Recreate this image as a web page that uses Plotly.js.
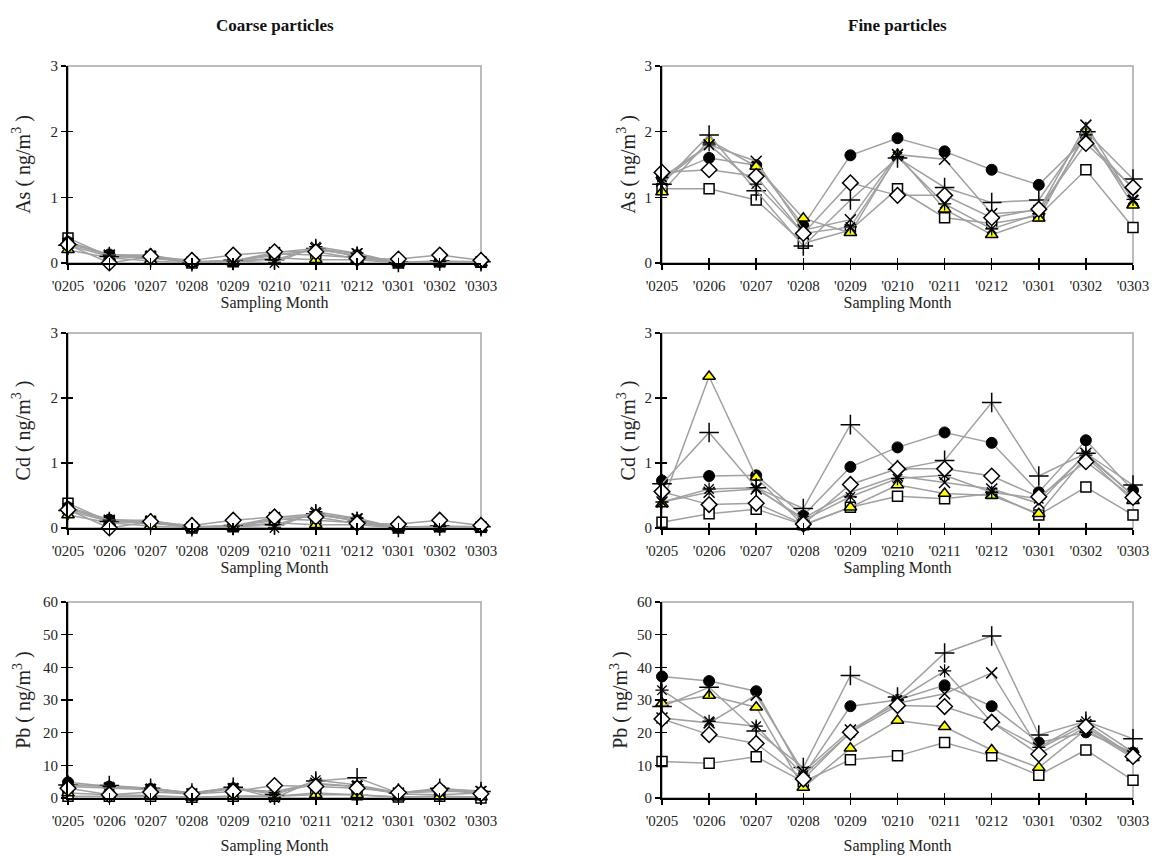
<!DOCTYPE html>
<html><head><meta charset="utf-8">
<script src="https://cdn.plot.ly/plotly-3.0.1.min.js"></script>
<style>html,body{margin:0;padding:0;background:#fff}#chart{width:1152px;height:857px}</style>
</head><body><div id="chart"></div>
<script>
const months = ["'0205","'0206","'0207","'0208","'0209","'0210","'0211","'0212","'0301","'0302","'0303"];

// Coarse particles, As (the Cd coarse panel shows the same values)
const coarseAsCircle   = [0.32,0.13,0.10,0.01,0.03,0.12,0.20,0.12,0.01,0.02,0.01];
const coarseAsTriangle = [0.20,0.08,0.03,0.00,0.01,0.08,0.05,0.05,0.00,0.01,0.00];
const coarseAsSquare   = [0.38,0.10,0.08,0.00,0.02,0.14,0.12,0.08,0.00,0.02,0.01];
const coarseAsPlus     = [0.27,0.10,0.08,0.02,0.04,0.05,0.22,0.10,0.01,0.03,0.02];
const coarseAsX        = [0.30,0.12,0.10,0.01,0.03,0.16,0.22,0.14,0.00,0.02,0.01];
const coarseAsStar     = [0.30,0.12,0.12,0.01,0.03,0.00,0.25,0.15,0.00,0.02,0.02];
const coarseAsDiamond  = [0.28,0.00,0.10,0.04,0.12,0.17,0.17,0.07,0.06,0.12,0.04];

const coarseCdCircle   = [0.32,0.13,0.10,0.01,0.03,0.12,0.20,0.12,0.01,0.02,0.01];
const coarseCdTriangle = [0.20,0.08,0.03,0.00,0.01,0.08,0.05,0.05,0.00,0.01,0.00];
const coarseCdSquare   = [0.38,0.10,0.08,0.00,0.02,0.14,0.12,0.08,0.00,0.02,0.01];
const coarseCdPlus     = [0.27,0.10,0.08,0.02,0.04,0.05,0.22,0.10,0.01,0.03,0.02];
const coarseCdX        = [0.30,0.12,0.10,0.01,0.03,0.16,0.22,0.14,0.00,0.02,0.01];
const coarseCdStar     = [0.30,0.12,0.12,0.01,0.03,0.00,0.25,0.15,0.00,0.02,0.02];
const coarseCdDiamond  = [0.28,0.00,0.10,0.04,0.12,0.17,0.17,0.07,0.06,0.12,0.04];

const coarsePbCircle   = [4.8,3.5,2.8,1.5,3.0,1.5,4.2,3.5,1.2,1.0,1.5];
const coarsePbTriangle = [1.5,1.0,0.8,0.2,0.5,0.5,1.0,1.0,0.2,0.5,0.3];
const coarsePbSquare   = [0.5,0.5,0.5,0.2,0.5,0.5,1.5,1.0,0.3,0.5,0.0];
const coarsePbPlus     = [4.0,3.8,3.0,1.5,3.3,1.0,5.2,6.2,1.5,3.0,2.0];
const coarsePbX        = [3.5,3.0,2.5,1.2,2.8,2.0,4.5,3.5,1.5,2.0,2.0];
const coarsePbStar     = [4.0,3.5,3.0,1.5,3.2,0.0,5.5,4.0,1.6,2.5,2.2];
const coarsePbDiamond  = [3.0,1.0,1.8,1.2,2.0,3.8,3.5,3.0,1.7,2.5,1.3];

// Fine particles
const fineAsCircle   = [1.30,1.60,1.49,0.57,1.64,1.90,1.70,1.42,1.19,1.90,1.13];
const fineAsTriangle = [1.08,1.87,1.47,0.68,0.46,1.65,0.82,0.43,0.68,2.00,0.88];
const fineAsSquare   = [1.13,1.13,0.96,0.30,0.50,1.13,0.69,0.60,0.72,1.42,0.54];
const fineAsPlus     = [1.20,1.95,1.10,0.26,0.96,1.60,1.15,0.92,0.96,2.00,1.28];
const fineAsX        = [1.25,1.80,1.55,0.50,0.66,1.65,1.58,0.75,0.80,2.10,0.95];
const fineAsStar     = [1.30,1.80,1.20,0.45,0.55,1.62,0.90,0.52,0.75,1.95,0.97];
const fineAsDiamond  = [1.38,1.42,1.32,0.45,1.22,1.03,1.03,0.69,0.82,1.82,1.15];

const fineCdCircle   = [0.73,0.80,0.81,0.19,0.94,1.24,1.47,1.31,0.55,1.35,0.58];
const fineCdTriangle = [0.37,2.33,0.78,0.04,0.32,0.66,0.53,0.50,0.22,1.10,0.42];
const fineCdSquare   = [0.09,0.22,0.29,0.05,0.32,0.49,0.45,0.53,0.20,0.63,0.20];
const fineCdPlus     = [0.68,1.47,0.62,0.30,1.59,0.90,1.04,1.93,0.80,1.15,0.66];
const fineCdX        = [0.40,0.55,0.60,0.15,0.55,0.80,0.70,0.60,0.38,1.15,0.50];
const fineCdStar     = [0.40,0.60,0.62,0.12,0.48,0.76,0.81,0.55,0.45,1.12,0.50];
const fineCdDiamond  = [0.56,0.36,0.38,0.06,0.67,0.91,0.91,0.80,0.48,1.02,0.47];

const finePbCircle   = [37.2,35.8,32.7,6.8,28.1,30.0,34.5,28.1,17.0,20.1,13.9];
const finePbTriangle = [29.0,31.4,27.8,3.2,15.2,23.7,21.8,14.7,9.3,21.0,12.3];
const finePbSquare   = [11.2,10.6,12.6,5.0,11.7,12.9,17.0,12.9,7.0,14.7,5.4];
const finePbPlus     = [28.0,33.9,20.5,9.3,37.5,30.9,44.4,49.6,19.3,23.5,18.1];
const finePbX        = [24.5,23.0,31.5,8.0,20.8,29.0,31.9,38.3,15.0,22.5,13.0];
const finePbStar     = [33.0,23.5,22.0,7.0,20.0,30.0,38.9,23.2,15.5,23.5,14.0];
const finePbDiamond  = [24.2,19.4,16.7,5.8,20.1,28.3,28.0,23.2,13.4,21.8,12.7];

const panelTitles = ["As ( ng/m<sup>3</sup> )","Cd ( ng/m<sup>3</sup> )","Pb ( ng/m<sup>3</sup> )"];
const columnTitles = ["Coarse particles","Fine particles"];
const xTitle = "Sampling Month";

// panel order: coarse As, coarse Cd, coarse Pb, fine As, fine Cd, fine Pb
const panels = [
  {col:0,row:0,ymax:3,dt:1,s:[coarseAsSquare,coarseAsCircle,coarseAsTriangle,coarseAsPlus,coarseAsX,coarseAsStar,coarseAsDiamond]},
  {col:0,row:1,ymax:3,dt:1,s:[coarseCdSquare,coarseCdCircle,coarseCdTriangle,coarseCdPlus,coarseCdX,coarseCdStar,coarseCdDiamond]},
  {col:0,row:2,ymax:60,dt:10,s:[coarsePbSquare,coarsePbCircle,coarsePbTriangle,coarsePbPlus,coarsePbX,coarsePbStar,coarsePbDiamond]},
  {col:1,row:0,ymax:3,dt:1,s:[fineAsSquare,fineAsCircle,fineAsTriangle,fineAsPlus,fineAsX,fineAsStar,fineAsDiamond]},
  {col:1,row:1,ymax:3,dt:1,s:[fineCdSquare,fineCdCircle,fineCdTriangle,fineCdPlus,fineCdX,fineCdStar,fineCdDiamond]},
  {col:1,row:2,ymax:60,dt:10,s:[finePbSquare,finePbCircle,finePbTriangle,finePbPlus,finePbX,finePbStar,finePbDiamond]}
];

const styles = [
  {symbol:'square', color:'#ffffff', size:10, lw:1.5},
  {symbol:'circle', color:'#000000', size:11, lw:1},
  {symbol:'triangle-up', color:'#ffff00', size:11, lw:1.5},
  {symbol:'cross-thin-open', color:'#000000', size:14, lw:1.5},
  {symbol:'x-thin-open', color:'#000000', size:11, lw:1.5},
  {symbol:'asterisk-open', color:'#000000', size:11, lw:1.3},
  {symbol:'diamond', color:'#ffffff', size:12, lw:1.5}
];

const W = 1152, H = 857;
const colX = [[68,481],[662,1133]];
const rowY = [[66,263],[333,528],[602,798]];
const font = 'Liberation Serif';
const titleStandoff = [[15,15,7],[4,4,4]];

const data = [];
const layout = {
  width:W, height:H, margin:{l:0,r:0,t:0,b:0}, showlegend:false,
  paper_bgcolor:'#fff', plot_bgcolor:'rgba(0,0,0,0)',
  font:{family:font, color:'#222', size:15},
  shapes:[], annotations:[]
};

panels.forEach((p,i)=>{
  const n = i+1, m = i+7;
  const xd = [colX[p.col][0]/W, colX[p.col][1]/W];
  const yd = [1-rowY[p.row][1]/H, 1-rowY[p.row][0]/H];
  const xs = n===1?'':n, ms = m;
  p.s.forEach((vals,k)=>{
    const st = styles[k];
    data.push({
      type:'scatter', mode:'lines+markers', x:months, y:vals,
      xaxis:'x'+xs, yaxis:'y'+xs, cliponaxis:false,
      line:{color:'#a0a0a0', width:1.5},
      marker:{symbol:st.symbol, color:st.color, size:st.size, line:{color:'#000', width:st.lw}},
      hoverinfo:'skip'
    });
  });
  data.push({type:'scatter', x:[], y:[], xaxis:'x'+ms, yaxis:'y'+xs, showlegend:false});
  data.push({type:'scatter', x:[], y:[], xaxis:'x'+xs, yaxis:'y'+ms, showlegend:false});

  const standoffX = [1,3,12][p.row];
  layout['xaxis'+xs] = {
    domain:xd, anchor:'y'+xs, type:'category', categoryarray:months, range:[0,months.length-1],
    showline:true, linecolor:'#000', linewidth:2, ticks:'outside', ticklen:5, tickwidth:1.5, tickcolor:'#000',
    showgrid:false, zeroline:false, tickfont:{size:15, family:font, color:'#222'},
    ticklabelstandoff:3,
    title:{text:xTitle, font:{size:16, family:font, color:'#222'}, standoff:standoffX},
    automargin:false, fixedrange:true
  };
  layout['yaxis'+xs] = {
    domain:yd, anchor:'x'+xs, range:[0,p.ymax], dtick:p.dt, tick0:0,
    showline:true, linecolor:'#000', linewidth:2, ticks:'outside', ticklen:5, tickwidth:1.5, tickcolor:'#000',
    showgrid:false, zeroline:false, tickfont:{size:15, family:font, color:'#222'},
    title:{text:panelTitles[p.row], font:{size:20, family:font, color:'#222'}, standoff:titleStandoff[p.col][p.row]},
    automargin:false, fixedrange:true
  };
  layout['xaxis'+ms] = {
    overlaying:'x'+xs, anchor:'y'+xs, domain:xd, range:[0,months.length-1], dtick:1, tick0:0,
    ticks:'inside', ticklen:5, tickwidth:1.5, tickcolor:'#000', showticklabels:false,
    showline:false, showgrid:false, zeroline:false, fixedrange:true
  };
  layout['yaxis'+ms] = {
    overlaying:'y'+xs, anchor:'x'+xs, domain:yd, range:[0,p.ymax], dtick:p.dt, tick0:0,
    ticks:'inside', ticklen:5, tickwidth:1.5, tickcolor:'#000', showticklabels:false,
    showline:false, showgrid:false, zeroline:false, fixedrange:true
  };
  layout.shapes.push({
    type:'rect', xref:'x'+xs+' domain', yref:'y'+xs+' domain', x0:0, x1:1, y0:0, y1:1,
    line:{color:'#a6a6a6', width:1.5}, layer:'below'
  });
});

columnTitles.forEach((t,c)=>{
  layout.annotations.push({
    text:'<b>'+t+'</b>', xref:'paper', yref:'paper', showarrow:false,
    x:[275,897][c]/W, y:1-25/H, xanchor:'center', yanchor:'middle',
    font:{size:17, family:font, color:'#111'}
  });
});

Plotly.newPlot('chart', data, layout, {staticPlot:true});
</script></body></html>
